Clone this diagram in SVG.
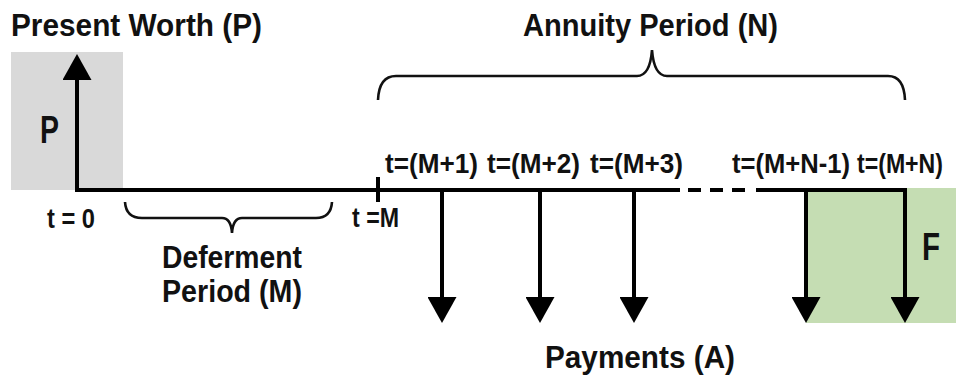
<svg xmlns="http://www.w3.org/2000/svg" width="956" height="381" viewBox="0 0 956 381">
<style>
text{font-family:"Liberation Sans",Arial,sans-serif;font-weight:bold;fill:#111}
.t30{font-size:32px}
.t27{font-size:28px}
.big{font-size:38px}
.ln{stroke:#000;stroke-width:4;fill:none}
.br{stroke:#111;stroke-width:2.6;fill:none}
</style>
<defs>
<marker id="ah" markerUnits="userSpaceOnUse" viewBox="0 0 26 29" markerWidth="26" markerHeight="29" refX="0" refY="14.5" orient="auto">
<path d="M0,0 L26,14.5 L0,29 z" fill="#000"/>
</marker>
</defs>
<rect width="956" height="381" fill="#fff"/>
<g id="present-box">
<rect x="11" y="52" width="112" height="138" fill="#d9d9d9"/>
<text class="big" x="40" y="143" textLength="19" lengthAdjust="spacingAndGlyphs">P</text>
</g>
<g id="future-box">
<rect x="806" y="188" width="150" height="135" fill="#c5ddb3"/>
<text class="big" x="922" y="260" textLength="18" lengthAdjust="spacingAndGlyphs">F</text>
</g>
<g id="titles">
<text class="t30" x="11" y="36" textLength="251" lengthAdjust="spacingAndGlyphs">Present Worth (P)</text>
<text class="t30" x="523" y="36" textLength="255" lengthAdjust="spacingAndGlyphs">Annuity Period (N)</text>
<text class="t30" x="545" y="368" textLength="190" lengthAdjust="spacingAndGlyphs">Payments (A)</text>
<text class="t30" x="162" y="268" textLength="140" lengthAdjust="spacingAndGlyphs">Deferment</text>
<text class="t30" x="162" y="302" textLength="140" lengthAdjust="spacingAndGlyphs">Period (M)</text>
</g>
<g id="time-labels">
<text class="t27" x="47" y="228" textLength="48" lengthAdjust="spacingAndGlyphs">t = 0</text>
<text class="t27" x="352" y="227" textLength="47" lengthAdjust="spacingAndGlyphs">t =M</text>
<text class="t27" x="385" y="173" textLength="93" lengthAdjust="spacingAndGlyphs">t=(M+1)</text>
<text class="t27" x="487" y="173" textLength="93" lengthAdjust="spacingAndGlyphs">t=(M+2)</text>
<text class="t27" x="590" y="173" textLength="93" lengthAdjust="spacingAndGlyphs">t=(M+3)</text>
<text class="t27" x="732" y="173" textLength="118" lengthAdjust="spacingAndGlyphs">t=(M+N-1)</text>
<text class="t27" x="857" y="173" textLength="86" lengthAdjust="spacingAndGlyphs">t=(M+N)</text>
</g>
<g id="braces">
<path class="br" d="M125,202 Q126,218 142,218 L222,218 Q231,218 232,233 Q233,218 242,218 L316,218 Q331,218 332,202"/>
<path class="br" d="M378,100 Q379,76 396,76 L637,76 Q650,76 652,50 Q654,76 667,76 L888,76 Q904,76 905,100"/>
</g>
<g id="connectors">
<line class="ln" x1="77" y1="192" x2="77" y2="80" marker-end="url(#ah)"/>
<polyline class="ln" points="75,190 680,190"/>
<line class="ln" x1="688" y1="190" x2="747" y2="190" stroke-dasharray="13 9"/>
<polyline class="ln" points="756,190 906,190"/>
<line class="ln" x1="378" y1="177" x2="378" y2="202" stroke-width="3.5"/>
<line class="ln" x1="442" y1="190" x2="442" y2="297" marker-end="url(#ah)"/>
<line class="ln" x1="540" y1="190" x2="540" y2="297" marker-end="url(#ah)"/>
<line class="ln" x1="634" y1="190" x2="634" y2="297" marker-end="url(#ah)"/>
<line class="ln" x1="806" y1="190" x2="806" y2="297" marker-end="url(#ah)"/>
<line class="ln" x1="905" y1="188" x2="905" y2="297" marker-end="url(#ah)"/>
</g>
</svg>
